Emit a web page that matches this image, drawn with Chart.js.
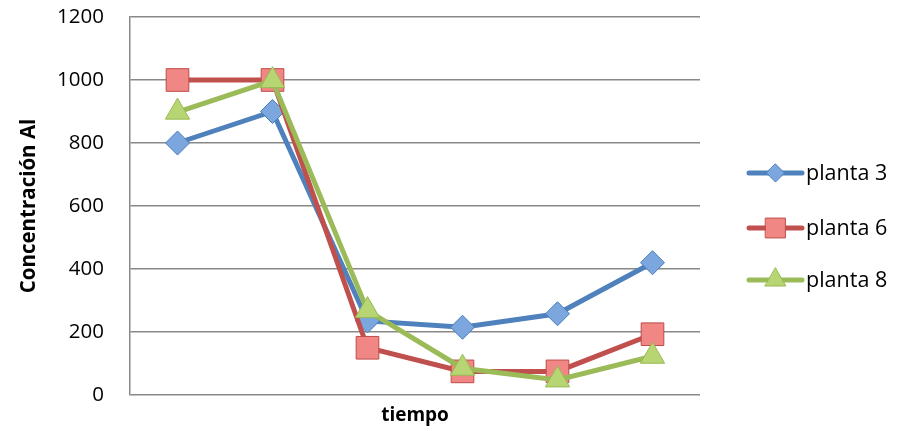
<!DOCTYPE html>
<html>
<head>
<meta charset="utf-8">
<script src="https://cdn.jsdelivr.net/npm/chart.js@4/dist/chart.umd.min.js"></script>
<style>
  html, body { margin: 0; padding: 0; background: #fff; }
  #wrap { width: 907px; height: 431px; }
</style>
</head>
<body>
<div id="wrap"><canvas id="c" width="907" height="431"></canvas></div>
<script>
// Sampling times (no labels shown on the axis)
const categories = ['1', '2', '3', '4', '5', '6'];
// Aluminium concentration per plant
const planta3 = [800, 900, 235, 215, 258, 420];
const planta6 = [1000, 1000, 150, 75, 75, 193];
const planta8 = [898, 998, 268, 85, 48, 123];
const yTicks = [0, 200, 400, 600, 800, 1000, 1200];

const FONT = '"Open Sans", Lato, sans-serif';

const series = [
  { label: 'planta 3', data: planta3, line: '#4F81BD', fill: '#7BA6DE', edge: '#4A7EBB', shape: 'rectRot', r: 12, order: 2 },
  { label: 'planta 6', data: planta6, line: '#C0504D', fill: '#F08784', edge: '#BE4B48', shape: 'rect', r: 16, order: 1 },
  { label: 'planta 8', data: planta8, line: '#9BBB59', fill: '#B7D673', edge: '#98B954', shape: 'triangle', r: 14, order: 0 }
];

function marker(ctx, shape, x, y, r) {
  ctx.beginPath();
  if (shape === 'rectRot') {
    ctx.moveTo(x, y - r); ctx.lineTo(x + r, y); ctx.lineTo(x, y + r); ctx.lineTo(x - r, y);
  } else if (shape === 'rect') {
    const s = r * Math.SQRT1_2;
    ctx.rect(x - s, y - s, 2 * s, 2 * s);
  } else {
    for (let i = 0; i < 3; i++) {
      const a = i * 2 * Math.PI / 3;
      const px = x + Math.sin(a) * r, py = y - Math.cos(a) * r;
      if (i === 0) ctx.moveTo(px, py); else ctx.lineTo(px, py);
    }
  }
  ctx.closePath();
  ctx.fill();
  ctx.stroke();
}

// Legend drawn at the right side: line sample with marker and text
const sideLegend = {
  id: 'sideLegend',
  afterDraw(chart) {
    const ctx = chart.ctx;
    const rows = [173, 228, 280];
    ctx.save();
    series.forEach((s, i) => {
      const y = rows[i];
      ctx.strokeStyle = s.line;
      ctx.lineWidth = 5;
      ctx.lineCap = 'round';
      ctx.beginPath(); ctx.moveTo(749, y); ctx.lineTo(802, y); ctx.stroke();
      ctx.fillStyle = s.fill;
      ctx.strokeStyle = s.edge;
      ctx.lineWidth = 1;
      marker(ctx, s.shape, 775.5, y, s.shape === 'rectRot' ? 9 : (s.shape === 'rect' ? 14 : 12));
      ctx.fillStyle = '#000';
      ctx.font = '21.5px ' + FONT;
      ctx.textBaseline = 'middle';
      ctx.textAlign = 'left';
      ctx.fillText(s.label, 806, y + 1);
    });
    ctx.restore();
  }
};

new Chart(document.getElementById('c'), {
  type: 'line',
  data: {
    labels: categories,
    datasets: series.map(s => ({
      label: s.label,
      data: s.data,
      order: s.order,
      borderColor: s.line,
      borderWidth: 5,
      backgroundColor: s.fill,
      pointStyle: s.shape,
      pointRadius: s.r,
      pointHoverRadius: s.r,
      pointBackgroundColor: s.fill,
      pointBorderColor: s.edge,
      pointBorderWidth: 1,
      tension: 0,
      fill: false
    }))
  },
  options: {
    responsive: false,
    animation: false,
    events: [],
    layout: { padding: { top: 17, right: 207, left: 0, bottom: 0 } },
    plugins: { legend: { display: false }, tooltip: { enabled: false } },
    scales: {
      x: {
        offset: true,
        grid: { display: false, drawTicks: false },
        border: { display: false },
        ticks: { display: false },
        title: {
          display: true, text: 'tiempo', color: '#000',
          font: { family: FONT, size: 19, weight: 'bold' }, padding: { top: 4 }
        },
        afterFit(scale) { scale.height = 36; }
      },
      y: {
        min: 0, max: 1200,
        afterBuildTicks(scale) { scale.ticks = yTicks.map(v => ({ value: v })); },
        grid: { color: '#888888', lineWidth: 1.5, drawTicks: false },
        border: { display: true, color: '#888888', width: 1.5 },
        ticks: {
          color: '#000', padding: 26,
          font: { family: FONT, size: 20.5 },
          callback: v => String(v)
        },
        title: {
          display: true, text: 'Concentración Al', color: '#000',
          font: { family: FONT, size: 20.5, weight: 'bold' }, padding: { top: 17, bottom: 0 }
        },
        afterFit(scale) {
          scale.width = 130;
          scale.paddingTop = 0;
          scale.paddingBottom = 0;
        }
      }
    }
  },
  plugins: [sideLegend]
});
</script>
</body>
</html>
